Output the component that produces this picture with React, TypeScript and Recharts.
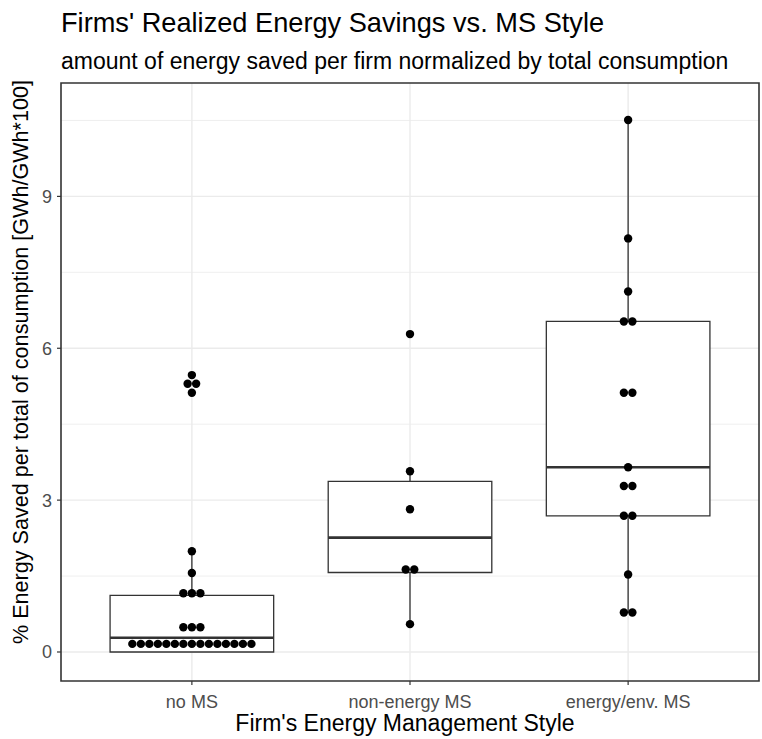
import React from 'react';
import {
  ComposedChart,
  Scatter,
  XAxis,
  YAxis,
  CartesianGrid,
  ReferenceArea,
  ReferenceLine,
} from 'recharts';

// ---- data ----
const categories = ['no MS', 'non-energy MS', 'energy/env. MS'];

const noMsSavings = [
  5.47, 5.3, 5.3, 5.12, 1.99, 1.56, 1.16, 1.16, 1.16, 0.49, 0.49, 0.49,
  0.16, 0.16, 0.16, 0.16, 0.16, 0.16, 0.16, 0.16, 0.16, 0.16, 0.16, 0.16, 0.16, 0.16, 0.16,
];
const nonEnergySavings = [6.28, 3.57, 2.82, 1.63, 1.63, 0.55];
const energyEnvSavings = [
  10.51, 8.17, 7.12, 6.53, 6.53, 5.12, 5.12, 3.65, 3.28, 3.28, 2.69, 2.69, 1.53, 0.78, 0.78,
];

const whiskerLow = [0, 0.55, 0.78];
const boxLow = [0, 1.57, 2.69];
const boxMedian = [0.28, 2.26, 3.65];
const boxHigh = [1.12, 3.37, 6.53];
const whiskerHigh = [1.99, 3.57, 10.51];

const yTicks = [0, 3, 6, 9];
const yMinorTicks = [1.5, 4.5, 7.5, 10.5];
const xTicks = [1, 2, 3];

// ---- layout / style constants ----
const W = 762;
const H = 739;
const Y_DOMAIN: [number, number] = [-0.573, 11.24];
const X_DOMAIN: [number, number] = [0.4, 3.6];
const BOX_HALF = 0.375;
const DOT_STEP = 0.039;
const FONT = '"Liberation Sans", Arial, Helvetica, sans-serif';
const DARK = '#333333';

function stackDots(values: number[], catIndex: number) {
  const counts = new Map<number, number>();
  values.forEach((v) => counts.set(v, (counts.get(v) || 0) + 1));
  const seen = new Map<number, number>();
  return values.map((v) => {
    const n = counts.get(v) || 1;
    const k = seen.get(v) || 0;
    seen.set(v, k + 1);
    return { x: catIndex + 1 + (k - (n - 1) / 2) * DOT_STEP, y: v };
  });
}

const dotData = [
  ...stackDots(noMsSavings, 0),
  ...stackDots(nonEnergySavings, 1),
  ...stackDots(energyEnvSavings, 2),
];

const Dot = (props: any) => {
  const { cx, cy } = props;
  if (cx == null || cy == null) return null;
  return <circle cx={cx} cy={cy} r={4.2} fill="#000000" />;
};

export default function App() {
  return (
    <div
      style={{
        position: 'absolute',
        left: 0,
        top: 0,
        width: W,
        height: H,
        background: '#ffffff',
        fontFamily: FONT,
      }}
    >
      <ComposedChart
        width={W}
        height={H}
        margin={{ top: 83, right: 3, bottom: 0, left: 0 }}
        data={dotData}
      >
        <CartesianGrid
          stroke="#ebebeb"
          strokeWidth={0.8}
          horizontalValues={yMinorTicks}
          vertical={false}
        />
        <CartesianGrid
          stroke="#ebebeb"
          strokeWidth={1.4}
          horizontalValues={yTicks}
          verticalValues={xTicks}
        />
        <XAxis
          type="number"
          dataKey="x"
          domain={X_DOMAIN}
          ticks={xTicks}
          allowDataOverflow
          height={58}
          axisLine={false}
          tickLine={{ stroke: DARK, strokeWidth: 1.2 }}
          tickSize={4}
          tickMargin={10}
          tick={{ fill: '#4d4d4d', fontSize: 18, fontFamily: FONT }}
          tickFormatter={(v: number) => categories[v - 1]}
          interval={0}
        />
        <YAxis
          type="number"
          dataKey="y"
          domain={Y_DOMAIN}
          ticks={yTicks}
          allowDataOverflow
          width={61}
          axisLine={false}
          tickLine={{ stroke: DARK, strokeWidth: 1.2 }}
          tickSize={4}
          tickMargin={5}
          tick={{ fill: '#4d4d4d', fontSize: 18, fontFamily: FONT }}
        />
        {categories.map((c, i) => (
          <ReferenceLine
            key={'wl' + c}
            segment={[
              { x: i + 1, y: whiskerLow[i] },
              { x: i + 1, y: boxLow[i] },
            ]}
            stroke={DARK}
            strokeWidth={1.3}
          />
        ))}
        {categories.map((c, i) => (
          <ReferenceLine
            key={'wh' + c}
            segment={[
              { x: i + 1, y: boxHigh[i] },
              { x: i + 1, y: whiskerHigh[i] },
            ]}
            stroke={DARK}
            strokeWidth={1.3}
          />
        ))}
        {categories.map((c, i) => (
          <ReferenceArea
            key={'box' + c}
            x1={i + 1 - BOX_HALF}
            x2={i + 1 + BOX_HALF}
            y1={boxLow[i]}
            y2={boxHigh[i]}
            fill="#ffffff"
            fillOpacity={1}
            stroke={DARK}
            strokeWidth={1.3}
          />
        ))}
        {categories.map((c, i) => (
          <ReferenceLine
            key={'med' + c}
            segment={[
              { x: i + 1 - BOX_HALF, y: boxMedian[i] },
              { x: i + 1 + BOX_HALF, y: boxMedian[i] },
            ]}
            stroke={DARK}
            strokeWidth={2.6}
          />
        ))}
        <Scatter
          data={dotData}
          dataKey="y"
          shape={Dot}
          isAnimationActive={false}
        />
        <ReferenceArea
          x1={X_DOMAIN[0]}
          x2={X_DOMAIN[1]}
          y1={Y_DOMAIN[0]}
          y2={Y_DOMAIN[1]}
          fill="none"
          stroke={DARK}
          strokeWidth={1.6}
        />
      </ComposedChart>
      <svg
        width={W}
        height={H}
        style={{ position: 'absolute', left: 0, top: 0, pointerEvents: 'none' }}
      >
        <text x={61} y={32} fontSize={27.2} fill="#000000" fontFamily={FONT}>
          Firms' Realized Energy Savings vs. MS Style
        </text>
        <text x={61} y={69} fontSize={23} fill="#000000" fontFamily={FONT}>
          amount of energy saved per firm normalized by total consumption
        </text>
        <text
          x={405}
          y={731}
          fontSize={23}
          fill="#000000"
          textAnchor="middle"
          fontFamily={FONT}
        >
          Firm's Energy Management Style
        </text>
        <text
          transform="translate(28, 362) rotate(-90)"
          fontSize={21.6}
          fill="#000000"
          textAnchor="middle"
          fontFamily={FONT}
        >
          % Energy Saved per total of consumption [GWh/GWh*100]
        </text>
      </svg>
    </div>
  );
}
